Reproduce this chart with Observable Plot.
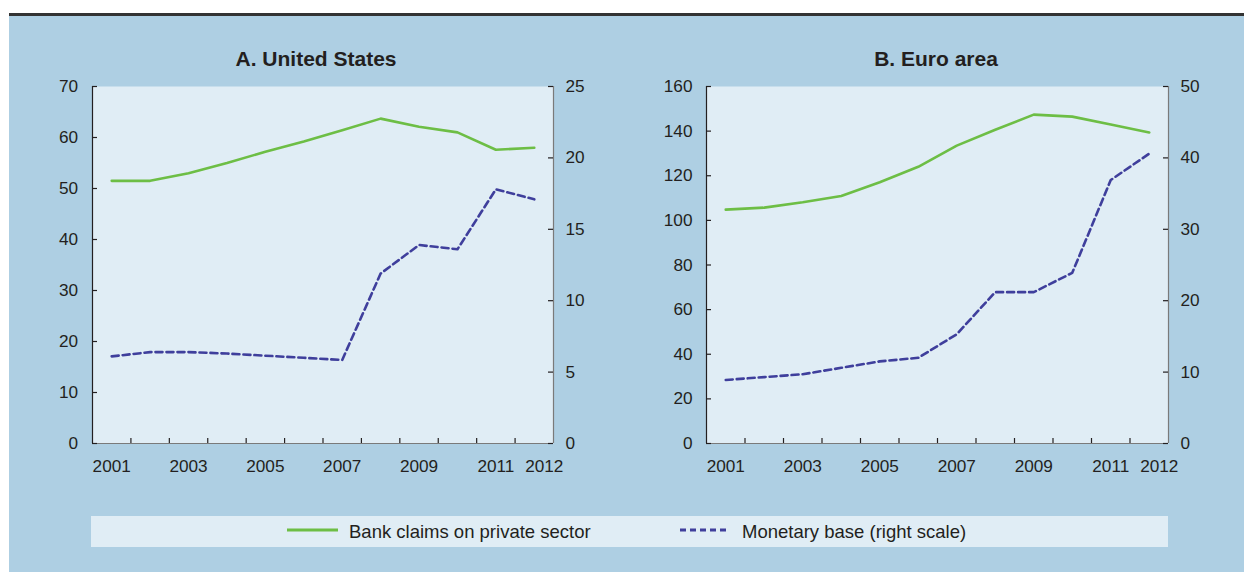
<!DOCTYPE html>
<html>
<head>
<meta charset="utf-8">
<script src="https://cdn.jsdelivr.net/npm/d3@7"></script>
<script src="https://cdn.jsdelivr.net/npm/@observablehq/plot@0.6"></script>
<style>
  html, body { margin: 0; padding: 0; background: #ffffff; }
  #page { position: relative; width: 1244px; height: 572px; overflow: hidden; font-family: "Liberation Sans", Arial, sans-serif; }
  #rule { position: absolute; left: 9px; top: 13px; width: 1235px; height: 3px; background: #333333; }
  #bg { position: absolute; left: 9px; top: 16px; width: 1235px; height: 556px; background: #AECFE3; }
  .title { position: absolute; width: 240px; text-align: center; font-weight: bold; font-size: 21px; line-height: 24px; color: #231f20; top: 47px; }
  .panel { position: absolute; top: 70px; }
  #legend { position: absolute; left: 91px; top: 516px; width: 1077px; height: 31px; background: #E0EDF5; }
  .lg { position: absolute; top: 0; height: 31px; line-height: 31px; font-size: 18.5px; color: #231f20; white-space: nowrap; }
  .sw { position: absolute; top: 0; }
</style>
</head>
<body>
<div id="page">
  <div id="rule"></div>
  <div id="bg"></div>
  <div class="title" style="left:196px">A. United States</div>
  <div class="title" style="left:816px">B. Euro area</div>
  <div id="panelA" class="panel" style="left:0px"></div>
  <div id="panelB" class="panel" style="left:620px"></div>
  <div id="legend">
    <svg class="sw" width="1077" height="31">
      <line x1="196" x2="247" y1="14" y2="14" stroke="#6DBE45" stroke-width="3"></line>
      <line x1="589" x2="638" y1="14" y2="14" stroke="#3F3F9C" stroke-width="3" stroke-dasharray="6,4"></line>
    </svg>
    <div class="lg" style="left:258px">Bank claims on private sector</div>
    <div class="lg" style="left:651px">Monetary base (right scale)</div>
  </div>
</div>
<script>
// ---- data ----
const years = [2001, 2002, 2003, 2004, 2005, 2006, 2007, 2008, 2009, 2010, 2011, 2012];
const bankUS = [51.5, 51.5, 53.0, 55.0, 57.2, 59.2, 61.4, 63.7, 62.1, 61.0, 57.6, 58.0];
const baseUS = [6.1, 6.4, 6.4, 6.3, 6.15, 6.0, 5.85, 11.9, 13.9, 13.6, 17.8, 17.1];
const bankEA = [104.8, 105.7, 108.1, 110.9, 117.1, 124.0, 133.5, 140.6, 147.4, 146.5, 143.0, 139.4];
const baseEA = [8.9, 9.3, 9.7, 10.6, 11.5, 12.0, 15.3, 21.2, 21.2, 23.9, 36.9, 40.6];

const xLabelYears = [2001, 2003, 2005, 2007, 2009, 2011];
const xLastYear = [2012];
const leftTicksUS = [0, 10, 20, 30, 40, 50, 60, 70];
const rightTicksUS = [0, 5, 10, 15, 20, 25];
const leftTicksEA = [0, 20, 40, 60, 80, 100, 120, 140, 160];
const rightTicksEA = [0, 10, 20, 30, 40, 50];

const GREEN = "#6DBE45";
const BLUE = "#3F3F9C";
const PLOTBG = "#E0EDF5";
const TICKFONT = '"Liberation Sans", Arial, sans-serif';

function panel({bank, base, leftTicks, rightTicks, width, marginLeft, marginRight, tpL, tpR}) {
  const lmax = leftTicks[leftTicks.length - 1];
  const rmax = rightTicks[rightTicks.length - 1];
  const k = lmax / rmax;
  const bankData = years.map((y, i) => ({year: y, v: bank[i]}));
  const baseData = years.map((y, i) => ({year: y, v: base[i] * k}));
  const boundaries = years.slice(0, -1).map(y => y + 0.5);
  const x0 = years[0] - 0.5, x1 = years[years.length - 1] + 0.5;
  return Plot.plot({
    width,
    height: 420,
    marginLeft,
    marginRight,
    marginTop: 16,
    marginBottom: 47,
    style: {background: "transparent", fontFamily: TICKFONT, fontSize: "17.2px", color: "#231f20", overflow: "visible"},
    x: {domain: [x0, x1]},
    y: {domain: [0, lmax]},
    marks: [
      Plot.frame({fill: PLOTBG, stroke: null}),
      Plot.line(bankData, {x: "year", y: "v", stroke: GREEN, strokeWidth: 2.6}),
      Plot.line(baseData, {x: "year", y: "v", stroke: BLUE, strokeWidth: 2.6, strokeDasharray: "7,4"}),
      // axis lines
      Plot.ruleY([0], {stroke: "#7a7a7a", strokeWidth: 1.2}),
      Plot.ruleX([x1], {stroke: "#7a7a7a", strokeWidth: 1.2}),
      Plot.ruleX([x0], {stroke: "#231f20", strokeWidth: 1.2}),
      // inward ticks
      Plot.ruleX(boundaries, {x: d => d, y1: () => 0, y2: () => 0, insetBottom: 5, stroke: "#231f20", strokeWidth: 1.2}),
      Plot.ruleY(leftTicks, {y: d => d, x1: () => x0, x2: () => x0, insetRight: -5, stroke: "#231f20", strokeWidth: 1.2}),
      Plot.ruleY(rightTicks.map(t => t * k), {y: d => d, x1: () => x1, x2: () => x1, insetLeft: -5, stroke: "#231f20", strokeWidth: 1.2}),
      // labels
      Plot.axisY(leftTicks, {anchor: "left", label: null, tickSize: 0, tickPadding: tpL, tickFormat: d => String(d)}),
      Plot.axisY(rightTicks.map(t => t * k), {anchor: "right", label: null, tickSize: 0, tickPadding: tpR, tickFormat: d => String(Math.round(d / k))}),
      Plot.axisX(xLabelYears, {anchor: "bottom", label: null, tickSize: 0, tickPadding: 16.5, tickFormat: d => String(d)}),
      Plot.axisX(xLastYear, {anchor: "bottom", label: null, tickSize: 0, tickPadding: 16.5, dx: 10, tickFormat: d => String(d)})
    ]
  });
}

document.getElementById("panelA").appendChild(panel({
  bank: bankUS, base: baseUS, leftTicks: leftTicksUS, rightTicks: rightTicksUS,
  width: 620, marginLeft: 92, marginRight: 67, tpL: 14.5, tpR: 12
}));
document.getElementById("panelB").appendChild(panel({
  bank: bankEA, base: baseEA, leftTicks: leftTicksEA, rightTicks: rightTicksEA,
  width: 624, marginLeft: 86, marginRight: 76, tpL: 14, tpR: 12
}));
</script>
</body>
</html>
